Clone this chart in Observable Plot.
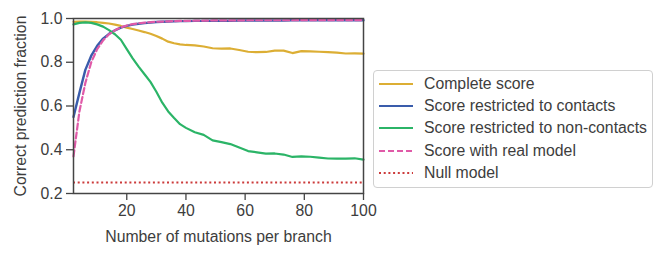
<!DOCTYPE html>
<html>
<head>
<meta charset="utf-8">
<script src="https://cdn.jsdelivr.net/npm/d3@7"></script>
<script src="https://cdn.jsdelivr.net/npm/@observablehq/plot@0.6"></script>
<style>
  html, body { margin: 0; padding: 0; background: #fff; }
  #wrap { position: relative; width: 665px; height: 259px; font-family: "Liberation Sans", Arial, sans-serif; color: #3d3d3d; }
  #wrap svg g[aria-label$="label"] text { font-size: 15.8px; }
  #legend { position: absolute; left: 373px; top: 70px; width: 280px; height: 118px; border: 1px solid #d0d0d0; border-radius: 4px; box-sizing: border-box; padding: 1.5px 0 0 5px; background: #fff; }
  .row { display: flex; align-items: center; height: 22.4px; font-size: 15.8px; color: #3d3d3d; white-space: nowrap; }
  .row svg { margin-right: 11px; }
</style>
</head>
<body>
<div id="wrap"></div>
<script>
const mutations = [2,4,6,8,10,12,14,16,18,20,22,24,26,28,30,32,34,36,38,40,43,46,49,52,55,58,61,64,67,70,73,76,79,82,85,88,91,94,97,100];
const completeScore = [0.985,0.986,0.986,0.985,0.983,0.980,0.977,0.972,0.966,0.958,0.952,0.945,0.938,0.930,0.920,0.908,0.894,0.887,0.882,0.879,0.877,0.872,0.864,0.862,0.863,0.856,0.848,0.846,0.847,0.853,0.853,0.842,0.851,0.850,0.848,0.846,0.844,0.840,0.841,0.839];
const contactsScore = [0.550,0.660,0.765,0.830,0.875,0.908,0.930,0.946,0.958,0.966,0.972,0.976,0.979,0.982,0.984,0.985,0.986,0.987,0.988,0.988,0.989,0.989,0.990,0.990,0.990,0.991,0.991,0.991,0.991,0.991,0.991,0.992,0.992,0.992,0.992,0.992,0.992,0.992,0.992,0.992];
const nonContactsScore = [0.973,0.980,0.982,0.980,0.973,0.963,0.947,0.928,0.903,0.860,0.818,0.780,0.745,0.710,0.665,0.615,0.575,0.545,0.517,0.500,0.480,0.468,0.443,0.435,0.426,0.410,0.394,0.388,0.382,0.383,0.378,0.367,0.370,0.368,0.364,0.360,0.359,0.359,0.361,0.355];
const realModelScore = [0.370,0.575,0.705,0.800,0.860,0.900,0.928,0.946,0.959,0.968,0.974,0.978,0.981,0.983,0.985,0.986,0.987,0.988,0.989,0.989,0.990,0.990,0.991,0.991,0.991,0.991,0.992,0.992,0.992,0.992,0.992,0.992,0.993,0.993,0.993,0.993,0.993,0.993,0.993,0.993];
const nullModel = [0.25];
const seriesNames = ["Complete score","Score restricted to contacts","Score restricted to non-contacts","Score with real model","Null model"];
const xTicks = [20,40,60,80,100];
const yTicks = [0.2,0.4,0.6,0.8,1.0];

const colors = ["#dcae34","#3a5cab","#2bb467","#e05aa8","#cc3b3b"];
const toRows = (ys) => mutations.map((m, i) => ({x: m, y: ys[i]}));

const plot = Plot.plot({
  width: 665,
  height: 259,
  marginLeft: 73,
  marginRight: 302,
  marginTop: 18,
  marginBottom: 66,
  style: {fontFamily: '"Liberation Sans", Arial, sans-serif', fontSize: "15.8px", color: "#3d3d3d", background: "#fff"},
  x: {domain: [2, 100]},
  y: {domain: [0.2, 1.0]},
  marks: [
    Plot.line(toRows(completeScore), {x: "x", y: "y", stroke: colors[0], strokeWidth: 2.2}),
    Plot.line(toRows(contactsScore), {x: "x", y: "y", stroke: colors[1], strokeWidth: 2.4}),
    Plot.line(toRows(nonContactsScore), {x: "x", y: "y", stroke: colors[2], strokeWidth: 2.2}),
    Plot.line(toRows(realModelScore), {x: "x", y: "y", stroke: colors[3], strokeWidth: 2.2, strokeDasharray: "6,3"}),
    Plot.ruleY(nullModel, {stroke: colors[4], strokeWidth: 2, strokeDasharray: "2,2.7"}),
    Plot.axisX({ticks: xTicks, tickSize: 7, tickPadding: 4, fontSize: 15.8, label: "Number of mutations per branch", labelAnchor: "center", labelArrow: "none", labelOffset: 48, stroke: "#444", strokeWidth: 1.3}),
    Plot.axisY({ticks: yTicks, tickSize: 7, tickPadding: 4, fontSize: 15.8, tickFormat: d3.format(".1f"), label: "Correct prediction fraction", labelAnchor: "center", labelArrow: "none", labelOffset: 59, stroke: "#444", strokeWidth: 1.3}),
    Plot.frame({stroke: "#444", strokeWidth: 1.5})
  ]
});

const wrap = document.getElementById("wrap");
wrap.appendChild(plot);

const legend = document.createElement("div");
legend.id = "legend";
const dashes = [null, null, null, "6,3", "2,2.7"];
seriesNames.forEach((name, i) => {
  const row = document.createElement("div");
  row.className = "row";
  const dash = dashes[i] ? ` stroke-dasharray="${dashes[i]}"` : "";
  row.innerHTML = `<svg width="34" height="6"><line x1="0" y1="3" x2="34" y2="3" stroke="${colors[i]}" stroke-width="2"${dash}/></svg><span>${name}</span>`;
  legend.appendChild(row);
});
wrap.appendChild(legend);
</script>
</body>
</html>
